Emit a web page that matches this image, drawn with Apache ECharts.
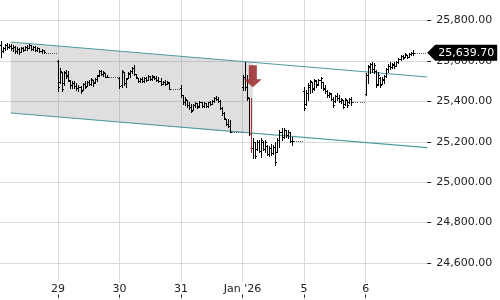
<!DOCTYPE html>
<html><head><meta charset="utf-8">
<script src="https://cdn.jsdelivr.net/npm/echarts@6/dist/echarts.min.js"></script>
<style>html,body{margin:0;padding:0;background:#fff;overflow:hidden;width:500px;height:300px;position:relative}
#c{position:absolute;left:-4px;top:-20px;width:504px;height:324px}</style>
</head><body><div id="c"></div>
<script>
// ---- data ----
const dayLabels = ['26', '29', '30', '31', "Jan '26", '5', '6', '7'];
const barsPerDay = 30;
// each bar: [open, high, low, close]
const dec26 = [
[25660,25690,25640,25650],[25650,25700,25630,25680],[25680,25700,25620,25650],[25650,25669,25644,25665],
[25665,25684,25654,25678],[25678,25689,25659,25670],[25670,25684,25664,25676],[25676,25684,25654,25662],
[25662,25679,25649,25667],[25667,25674,25639,25648],[25648,25669,25639,25660],[25660,25664,25634,25645],
[25645,25669,25644,25662],[25662,25669,25649,25655],[25655,25674,25654,25670],[25670,25679,25654,25665],
[25665,25684,25664,25680],[25678,25679,25654,25660],[25660,25674,25654,25668],[25668,25674,25649,25652],
[25652,25669,25649,25664],[25664,25664,25644,25648],[25648,25659,25639,25655],[25652,25654,25639,25642],
[25641,25641,25641,25641],[25641,25641,25641,25641],[25641,25641,25641,25641],[25641,25641,25641,25641],
[25641,25641,25641,25641],[25641,25641,25641,25641]];
const dec29 = [
[25600,25605,25451,25470],[25495,25565,25491,25550],[25545,25545,25451,25460],[25490,25550,25481,25545],
[25540,25555,25515,25525],[25530,25550,25501,25505],[25500,25506,25466,25480],[25480,25501,25466,25490],
[25490,25501,25466,25475],[25475,25491,25456,25465],[25465,25481,25451,25470],[25470,25476,25441,25450],
[25458,25491,25456,25485],[25485,25501,25466,25470],[25478,25501,25476,25495],[25495,25506,25481,25485],
[25485,25516,25481,25510],[25505,25506,25476,25490],[25495,25516,25491,25512],[25510,25530,25501,25525],
[25528,25555,25525,25550],[25550,25555,25530,25535],[25535,25550,25525,25545],[25540,25540,25520,25522],
[25522,25530,25520,25520],[25520,25520,25520,25520],[25520,25520,25520,25520],[25520,25520,25520,25520],
[25520,25520,25520,25520],[25520,25520,25520,25520]];
const dec30 = [
[25515,25520,25466,25475],[25480,25555,25471,25550],[25545,25545,25481,25490],[25490,25515,25471,25510],
[25515,25545,25515,25540],[25535,25555,25520,25550],[25548,25570,25540,25565],[25565,25580,25530,25535],
[25533,25535,25515,25518],[25515,25515,25496,25500],[25500,25515,25496,25510],[25510,25520,25496,25500],
[25500,25520,25496,25515],[25515,25520,25501,25505],[25506,25530,25504,25525],[25525,25525,25506,25510],
[25510,25530,25506,25525],[25522,25525,25511,25515],[25515,25525,25501,25505],[25505,25520,25496,25500],
[25500,25515,25481,25485],[25488,25501,25486,25495],[25495,25506,25481,25485],[25486,25501,25486,25495],
[25492,25496,25461,25463],[25460,25460,25460,25460],[25460,25460,25460,25460],[25460,25460,25460,25460],
[25460,25460,25460,25460],[25460,25460,25460,25460]];
const dec31 = [
[25465,25481,25421,25430],[25430,25431,25387,25395],[25395,25421,25382,25410],[25405,25407,25372,25380],
[25380,25397,25362,25370],[25370,25387,25347,25352],[25358,25387,25357,25380],[25380,25397,25372,25392],
[25390,25392,25367,25372],[25375,25402,25372,25395],[25395,25397,25372,25378],[25378,25397,25372,25392],
[25390,25392,25372,25377],[25377,25397,25372,25395],[25395,25402,25382,25385],[25387,25407,25387,25402],
[25402,25421,25397,25415],[25415,25426,25407,25410],[25410,25421,25397,25400],[25400,25407,25362,25365],
[25365,25372,25332,25340],[25340,25347,25313,25318],[25313,25313,25283,25290],[25290,25313,25273,25278],
[25278,25308,25248,25250],[25248,25248,25248,25248],[25248,25248,25248,25248],[25248,25248,25248,25248],
[25248,25248,25248,25248],[25248,25248,25248,25248]];
const jan02 = [
[25470,25530,25456,25520],[25520,25595,25456,25470],[25470,25530,25407,25420],[25415,25416,25233,25240],
[25240,25416,25149,25170],[25170,25219,25120,25200],[25198,25199,25120,25130],[25165,25209,25159,25200],
[25200,25209,25149,25155],[25155,25219,25125,25210],[25200,25204,25159,25165],[25165,25209,25149,25200],
[25180,25184,25135,25140],[25140,25179,25130,25170],[25170,25189,25135,25145],[25145,25184,25139,25175],
[25175,25199,25085,25100],[25150,25219,25149,25210],[25210,25258,25174,25250],[25250,25268,25209,25225],
[25225,25268,25219,25260],[25258,25258,25224,25235],[25235,25258,25219,25250],[25248,25248,25199,25205],
[25205,25224,25184,25204],[25204,25204,25204,25204],[25204,25204,25204,25204],[25204,25204,25204,25204],
[25204,25204,25204,25204],[25204,25204,25204,25204]];
const jan05 = [
[25450,25471,25357,25365],[25385,25456,25382,25440],[25440,25491,25407,25480],[25470,25506,25441,25500],
[25495,25496,25446,25460],[25465,25511,25456,25505],[25500,25506,25471,25480],[25485,25511,25481,25505],
[25505,25520,25466,25515],[25495,25496,25456,25462],[25465,25481,25441,25450],[25450,25456,25421,25430],
[25430,25446,25421,25440],[25438,25441,25407,25410],[25410,25421,25372,25380],[25400,25431,25397,25425],
[25425,25441,25407,25415],[25415,25431,25397,25400],[25400,25416,25392,25410],[25405,25407,25367,25372],
[25385,25416,25382,25410],[25405,25407,25372,25380],[25395,25416,25392,25410],[25410,25421,25382,25398],
[25398,25398,25398,25398],[25398,25398,25398,25398],[25398,25398,25398,25398],[25398,25398,25398,25398],
[25398,25398,25398,25398],[25398,25398,25398,25398]];
const jan06 = [
[25435,25540,25431,25530],[25530,25580,25491,25575],[25570,25590,25540,25585],[25585,25595,25545,25560],
[25560,25590,25540,25580],[25550,25555,25471,25480],[25485,25545,25481,25530],[25515,25520,25471,25480],
[25487,25520,25486,25510],[25505,25530,25491,25525],[25525,25565,25520,25560],[25560,25585,25545,25575],
[25575,25595,25560,25570],[25570,25590,25565,25585],[25582,25595,25565,25575],[25575,25600,25575,25595],
[25595,25614,25590,25610],[25610,25629,25605,25625],[25625,25629,25610,25615],[25620,25639,25619,25635],
[25628,25629,25614,25620],[25620,25639,25619,25636],[25635,25644,25629,25640],[25640,25654,25629,25639.7],
[25639.7,25639.7,25639.7,25639.7],[25639.7,25639.7,25639.7,25639.7],[25639.7,25639.7,25639.7,25639.7],
[25639.7,25639.7,25639.7,25639.7],[25639.7,25639.7,25639.7,25639.7],[25639.7,25639.7,25639.7,25639.7]];
const days = [dec26, dec29, dec30, dec31, jan02, jan05, jan06];
const lastPrice = 25639.7;
// channel (bar index, price)
const channelUpper = [[7, 25693], [210, 25520]];
const channelLower = [[7, 25342], [210, 25171]];
const shadeUpper = [[7, 25693], [125, 25592]];
const shadeLower = [[7, 25342], [125, 25241]];
const signalArrow = [125, 25524];
const redBars = [124];
const yMin = 24400, yMax = 26000, yStep = 200;

// ---- build ----
const categories = [];
dayLabels.forEach((d, di) => {
  const n = di < days.length ? barsPerDay : 1;
  for (let k = 0; k < n; k++) categories.push(d + ' #' + k);
});
const ohlc = [];
days.forEach((bars, d) => bars.forEach((b, k) => ohlc.push([d * barsPerDay + k, b[0], b[1], b[2], b[3]])));

const isDayStart = (i) => i % barsPerDay === 0 && i >= barsPerDay && i <= barsPerDay * 6;
const fmt = (v) => v.toLocaleString('en-US', {minimumFractionDigits: 2, maximumFractionDigits: 2});
const FONT = 'DejaVu Sans';

function renderOHLC(params, api) {
  const i = api.value(0);
  const pO = api.coord([i, api.value(1)]);
  const pH = api.coord([i, api.value(2)]);
  const pL = api.coord([i, api.value(3)]);
  const pC = api.coord([i, api.value(4)]);
  const x = Math.round(pH[0]);
  const yH = Math.round(pH[1]), yL = Math.round(pL[1]);
  const col = redBars.indexOf(i) >= 0 ? '#a83232' : '#000';
  if (yL - yH < 1) {
    return {type: 'rect', shape: {x: x, y: yH, width: 1, height: 1}, style: {fill: '#555'}};
  }
  return {type: 'group', children: [
    {type: 'rect', shape: {x: x, y: yH, width: 1, height: yL - yH + 1}, style: {fill: col}},
    {type: 'rect', shape: {x: x - 1, y: Math.round(pO[1]), width: 1, height: 1}, style: {fill: col}},
    {type: 'rect', shape: {x: x + 1, y: Math.round(pC[1]), width: 1, height: 1}, style: {fill: col}}
  ]};
}
function renderChannel(params, api) {
  const c = (p) => api.coord(p);
  const su = shadeUpper.map(c), sl = shadeLower.map(c);
  const cu = channelUpper.map(c), cl = channelLower.map(c);
  return {type: 'group', children: [
    {type: 'polygon', shape: {points: [su[0], su[1], sl[1], sl[0]]}, style: {fill: 'rgba(128,128,128,0.25)'}},
    {type: 'line', shape: {x1: cu[0][0], y1: cu[0][1], x2: cu[1][0], y2: cu[1][1]}, style: {stroke: '#4f9a9a', lineWidth: 1.1}},
    {type: 'line', shape: {x1: cl[0][0], y1: cl[0][1], x2: cl[1][0], y2: cl[1][1]}, style: {stroke: '#4f9a9a', lineWidth: 1.1}}
  ]};
}

const chart = echarts.init(document.getElementById('c'), null, {renderer: 'canvas'});
chart.setOption({
  animation: false,
  grid: {left: 0.4, right: 72.8, top: 0, bottom: 0.5, containLabel: false},
  xAxis: {
    type: 'category', data: categories, boundaryGap: false, position: 'bottom', offset: -6,
    axisLine: {show: false},
    axisTick: {show: true, inside: true, length: 4, interval: isDayStart, lineStyle: {color: '#222'}},
    axisLabel: {inside: true, interval: isDayStart, margin: 3, color: '#222', fontFamily: FONT, fontSize: 11,
      backgroundColor: '#fff', padding: [1, 2, 0, 2],
      formatter: (v) => String(v).split(' #')[0]},
    splitLine: {show: true, interval: isDayStart, lineStyle: {color: '#d9d9d9', width: 1}}
  },
  yAxis: {
    type: 'value', position: 'right', min: yMin, max: yMax, interval: yStep,
    axisLine: {show: false},
    axisTick: {show: true, length: 4, lineStyle: {color: '#222'}},
    axisLabel: {margin: 9, color: '#222', fontFamily: FONT, fontSize: 11, formatter: fmt,
      showMinLabel: false, showMaxLabel: false},
    splitLine: {show: true, lineStyle: {color: '#d9d9d9', width: 1}}
  },
  series: [
    {type: 'custom', name: 'channel', renderItem: renderChannel, data: [[0, 25500]], z: 2, silent: true,
      encode: {x: 0, y: 1}},
    {type: 'custom', name: 'NQ', renderItem: renderOHLC, data: ohlc, z: 3, silent: true,
      encode: {x: 0, y: [1, 2, 3, 4]},
      markPoint: {silent: true, animation: false, z: 10, data: [
        {coord: signalArrow, symbol: 'path://M5,0L13,0L13,14L18,14L9,22L0,14L5,14Z', symbolSize: [18, 22],
          itemStyle: {color: 'rgba(155,45,45,0.88)'}, label: {show: false}},
        {coord: [210, lastPrice], symbol: 'path://M0,8L8,0L70,0L70,16L8,16Z', symbolSize: [70, 16],
          symbolOffset: [35, 0], itemStyle: {color: '#000'},
          label: {show: true, position: 'inside', formatter: fmt(lastPrice), color: '#fff', fontFamily: FONT,
            fontSize: 11, offset: [4, 0]}}
      ]}}
  ]
});
</script>
</body></html>
